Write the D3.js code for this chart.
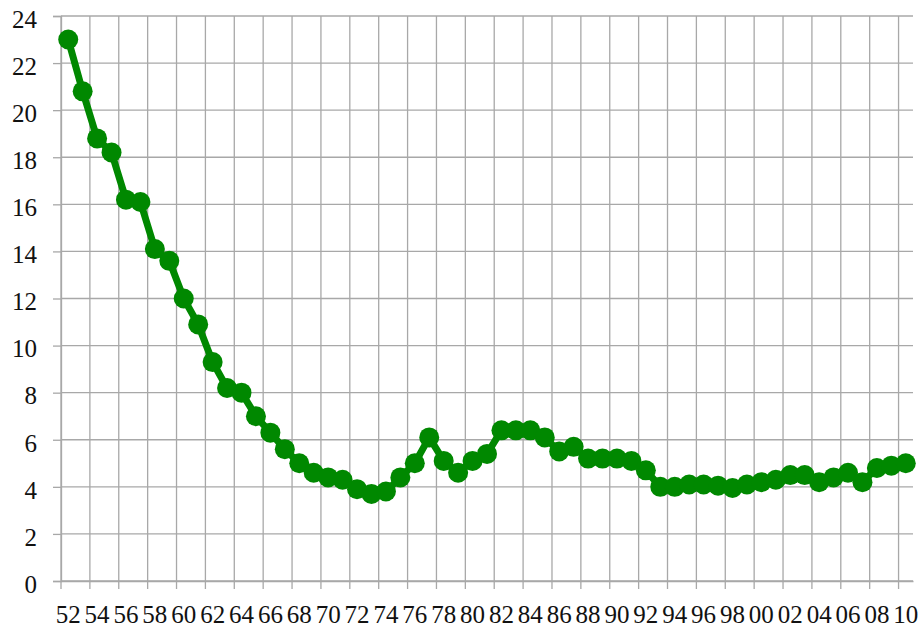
<!DOCTYPE html>
<html>
<head>
<meta charset="utf-8">
<script src="https://cdn.jsdelivr.net/npm/d3@7"></script>
<style>
  body { margin: 0; background: #fff; }
  svg { display: block; }
  .tick text { font-family: "Liberation Serif", "Times New Roman", serif; }
</style>
</head>
<body>
<svg id="chart" width="922" height="630"></svg>
<script>
const svg = d3.select("#chart");

// years 1952..2010
const years = d3.range(1952, 2011);
const values = [
  23.0, 20.8, 18.8, 18.2, 16.2, 16.1, 14.1, 13.6, 12.0, 10.9,
  9.3, 8.2, 8.0, 7.0, 6.3, 5.6, 5.0, 4.6, 4.4, 4.3,
  3.9, 3.7, 3.8, 4.4, 5.0, 6.1, 5.1, 4.6, 5.1, 5.4,
  6.4, 6.4, 6.4, 6.1, 5.5, 5.7, 5.2, 5.2, 5.2, 5.1,
  4.7, 4.0, 4.0, 4.1, 4.1, 4.05, 3.95, 4.1, 4.2, 4.3,
  4.5, 4.5, 4.2, 4.4, 4.6, 4.2, 4.8, 4.9, 5.0
];
const yTicks = d3.range(0, 25, 2);

const plotLeft = 61, plotRight = 913, plotTop = 16, plotBottom = 581;
const gridColor = "#a8a8a8";
const green = "#008800";

const x = d3.scaleBand().domain(years).range([plotLeft, plotRight]);
const y = d3.scaleLinear().domain([0, 24]).range([plotBottom, plotTop]);

// horizontal gridlines
svg.append("g")
  .selectAll("line")
  .data(yTicks)
  .enter()
  .append("line")
  .attr("x1", plotLeft).attr("x2", plotRight)
  .attr("y1", d => y(d)).attr("y2", d => y(d))
  .attr("stroke", gridColor).attr("stroke-width", 1.3);

// vertical gridlines every 2 categories
const vIdx = d3.range(0, years.length, 2);
svg.append("g")
  .selectAll("line")
  .data(vIdx)
  .enter()
  .append("line")
  .attr("x1", i => x(years[i])).attr("x2", i => x(years[i]))
  .attr("y1", plotTop).attr("y2", plotBottom + 8)
  .attr("stroke", gridColor).attr("stroke-width", 1.3);

// y axis
const yAxis = svg.append("g")
  .attr("transform", `translate(${plotLeft},0)`)
  .call(d3.axisLeft(y).tickValues(yTicks).tickSize(8).tickPadding(16));
yAxis.select(".domain").attr("stroke", gridColor).attr("stroke-width", 1.3);
yAxis.selectAll(".tick line").attr("stroke", gridColor).attr("stroke-width", 1.3);
yAxis.selectAll(".tick text").attr("font-size", "25px").attr("dy", "0.45em").attr("fill", "#111");

// x axis labels
const xAxis = svg.append("g")
  .attr("transform", `translate(0,${plotBottom})`)
  .call(d3.axisBottom(x)
    .tickValues(years.filter((d, i) => i % 2 === 0))
    .tickFormat(d => String(d % 100).padStart(2, "0"))
    .tickSize(0).tickPadding(24));
xAxis.select(".domain").attr("stroke", gridColor).attr("stroke-width", 1.3);
xAxis.selectAll(".tick text").attr("font-size", "25px").attr("fill", "#111");

// line and markers
const line = d3.line()
  .x((d, i) => x(years[i]) + x.bandwidth() / 2)
  .y(d => y(d));

svg.append("path")
  .datum(values)
  .attr("fill", "none")
  .attr("stroke", green)
  .attr("stroke-width", 7)
  .attr("stroke-linejoin", "round")
  .attr("d", line);

svg.selectAll(".dot")
  .data(values)
  .enter()
  .append("circle")
  .attr("class", "dot")
  .attr("cx", (d, i) => x(years[i]) + x.bandwidth() / 2)
  .attr("cy", d => y(d))
  .attr("r", 10)
  .attr("fill", green);
</script>
</body>
</html>
